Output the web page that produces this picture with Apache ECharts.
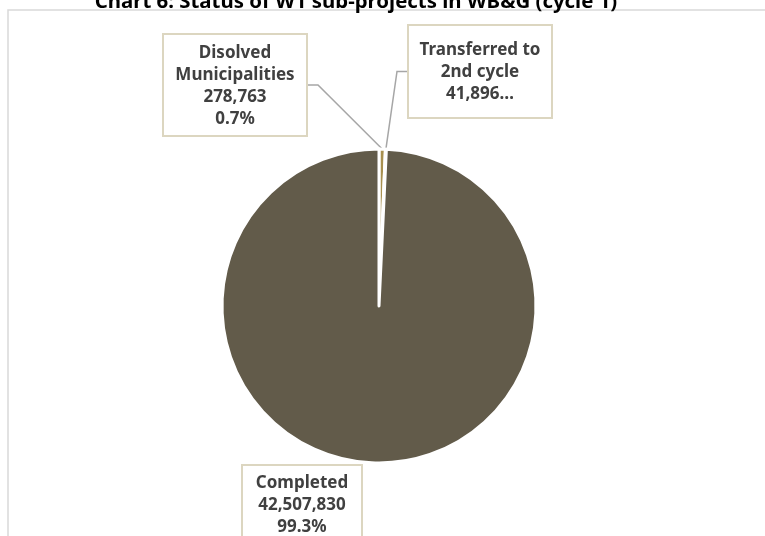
<!DOCTYPE html>
<html>
<head>
<meta charset="utf-8">
<script src="https://cdn.jsdelivr.net/npm/echarts@6/dist/echarts.min.js"></script>
<style>
  html, body { margin: 0; padding: 0; background: #ffffff; }
  #chart { width: 765px; height: 536px; }
</style>
</head>
<body>
<div id="chart"></div>
<script>
// Status of W1 sub-projects, cycle 1 (amounts)
const categories = ['Disolved\nMunicipalities', 'Transferred to\n2nd cycle', 'Completed'];
const values = [278763, 41896, 42507830];
// the second label is cut short after its value
const labelCut = [false, true, false];

const sliceColors = ['#A8904F', '#C9B98A', '#625B4A'];
const labelWidths = [122, 122, 98];
const labelPadding = [[7, 10, 5, 10], [13, 10, 12, 10], [6, 10, 6, 10]];
// box anchors: [centre x, top y]
const labelAnchors = [[235, 35], [480, 26], [302, 466]];

const titleText = 'Chart 6: Status of W1 sub-projects in WB&G (cycle 1)';

const total = values.reduce((s, v) => s + v, 0);

function fmtNum(v) {
  return v.toLocaleString('en-US');
}

const chart = echarts.init(document.getElementById('chart'), null, { renderer: 'canvas' });

const pieData = categories.map((name, i) => ({
  name: name,
  value: values[i],
  itemStyle: { color: sliceColors[i] },
  label: { width: labelWidths[i], padding: labelPadding[i] },
  labelLine: { show: i !== 2 }
}));

chart.setOption({
  animation: false,
  backgroundColor: '#ffffff',
  graphic: [
    {
      type: 'rect',
      z: -10,
      silent: true,
      shape: { x: 8, y: 10, width: 900, height: 700 },
      style: { fill: 'none', stroke: '#D9D9D9', lineWidth: 1.5 }
    },
    {
      type: 'text',
      silent: true,
      x: 356,
      y: -8,
      style: {
        text: titleText,
        fill: '#000000',
        font: 'bold 20.4px "Noto Sans"',
        textAlign: 'center',
        textVerticalAlign: 'top'
      }
    }
  ],
  series: [{
    type: 'pie',
    center: [379, 306],
    radius: 157,
    startAngle: 90,
    clockwise: true,
    avoidLabelOverlap: false,
    emphasis: { disabled: true },
    itemStyle: { borderColor: '#ffffff', borderWidth: 3 },
    label: {
      show: true,
      position: 'outside',
      color: '#404040',
      fontFamily: '"Noto Sans"',
      fontWeight: 'bold',
      fontSize: 17,
      lineHeight: 22,
      align: 'center',
      overflow: 'none',
      backgroundColor: '#ffffff',
      borderColor: '#DCD6C0',
      borderWidth: 2,
      formatter: function (p) {
        const cut = labelCut[p.dataIndex];
        const pct = (p.value / total * 100).toFixed(1);
        let s = p.name + '\n' + fmtNum(p.value);
        s += cut ? '\u2026' : '\n' + pct + '%';
        return s;
      }
    },
    labelLine: {
      show: true,
      length: 10,
      length2: 10,
      lineStyle: { color: '#A6A6A6', width: 1.5 }
    },
    labelLayout: function (params) {
      const a = labelAnchors[params.dataIndex];
      return { x: a[0], y: a[1], align: 'center', verticalAlign: 'top' };
    },
    data: pieData
  }]
});
</script>
</body>
</html>
